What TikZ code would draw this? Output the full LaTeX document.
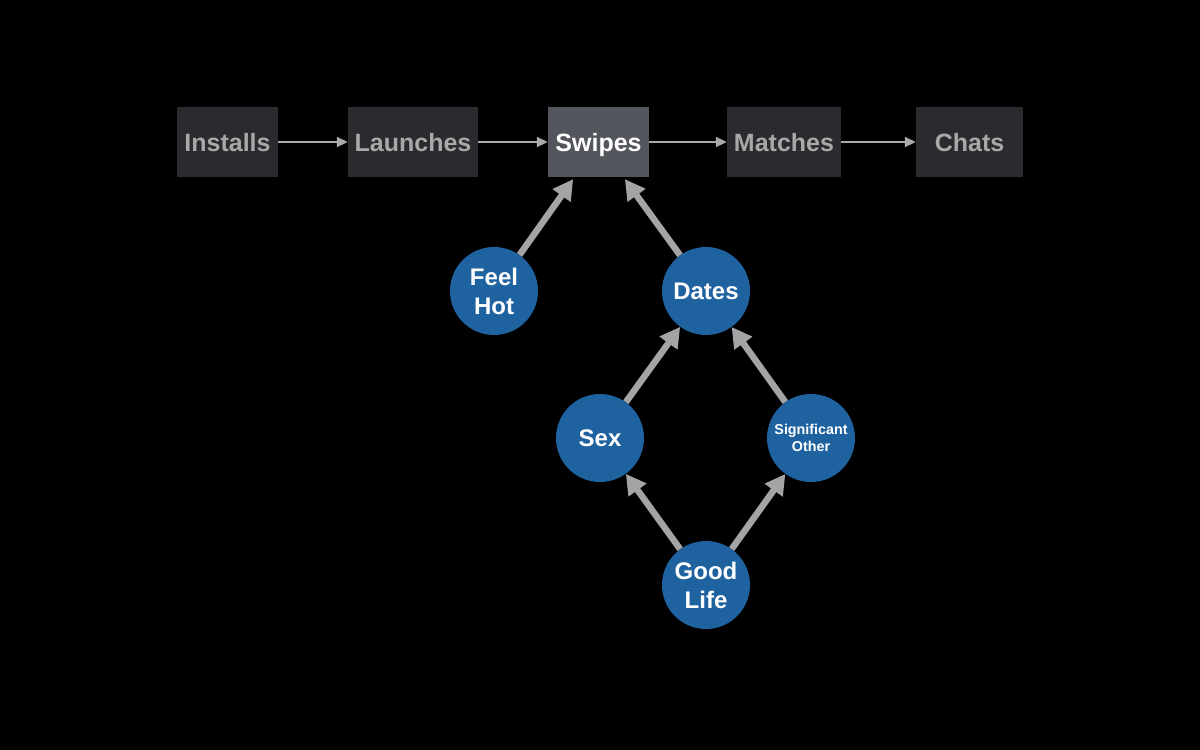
\documentclass[tikz,border=0pt]{standalone}
\usepackage{fontspec}
\setmainfont{Liberation Sans}
\usetikzlibrary{arrows.meta,calc}
\definecolor{boxfill}{HTML}{2A2B2E}
\definecolor{swfill}{HTML}{53565C}
\definecolor{boxtext}{HTML}{A8A8A8}
\definecolor{circfill}{HTML}{1F62A0}
\definecolor{thinarr}{HTML}{A9A9A9}
\definecolor{thickarr}{HTML}{A2A4A5}
\tikzset{
  stagebox/.style={fill=boxfill, text=boxtext, minimum height=70pt, inner sep=0pt,
    text height=18pt, text depth=0pt,
    font=\fontsize{25}{30}\selectfont\bfseries},
  bubble/.style={circle, fill=circfill, text=white, minimum size=88pt, inner sep=0pt,
    align=center, font=\fontsize{24}{29}\selectfont\bfseries},
  thinflow/.style={draw=thinarr, line width=2pt, -{Triangle[length=11pt,width=10pt]}},
  thickflow/.style={draw=thickarr, line width=6.5pt, -{Triangle[length=20pt,width=21pt]}}
}
\begin{document}
\begin{tikzpicture}[x=1pt,y=-1pt]
\path[fill=black] (0,0) rectangle (1200,750);
\useasboundingbox (0,0) rectangle (1200,750);
% stage boxes
\node[stagebox, minimum width=101pt] (ins) at (227.5,142) {Installs};
\node[stagebox, minimum width=130pt] (lau) at (413,142) {Launches};
\node[stagebox, minimum width=101pt, fill=swfill, text=white] (sw) at (598.5,142) {Swipes};
\node[stagebox, minimum width=114pt] (mat) at (784,142) {Matches};
\node[stagebox, minimum width=107pt] (cha) at (969.5,142) {Chats};
\draw[thinflow] (ins) -- (lau);
\draw[thinflow] (lau) -- (sw);
\draw[thinflow] (sw) -- (mat);
\draw[thinflow] (mat) -- (cha);
% bubbles
\node[bubble] (fh) at (494,291) {Feel\\Hot};
\node[bubble] (da) at (706,291) {Dates};
\node[bubble] (sx) at (600,438) {Sex};
\node[bubble, font=\fontsize{14.3}{17}\selectfont\bfseries] (so) at (811,438) {Significant\\Other};
\node[bubble] (gl) at (706,585) {Good\\Life};
\coordinate (swl) at ($(sw.south west)!0.25!(sw.south east)+(0,2)$);
\coordinate (swr) at ($(sw.south west)!0.76!(sw.south east)+(0,2)$);
\draw[thickflow] (fh) -- (swl);
\draw[thickflow] (da) -- (swr);
\draw[thickflow] (sx) -- (da);
\draw[thickflow] (so) -- (da);
\draw[thickflow] (gl) -- (sx);
\draw[thickflow] (gl) -- (so);
\end{tikzpicture}
\end{document}
